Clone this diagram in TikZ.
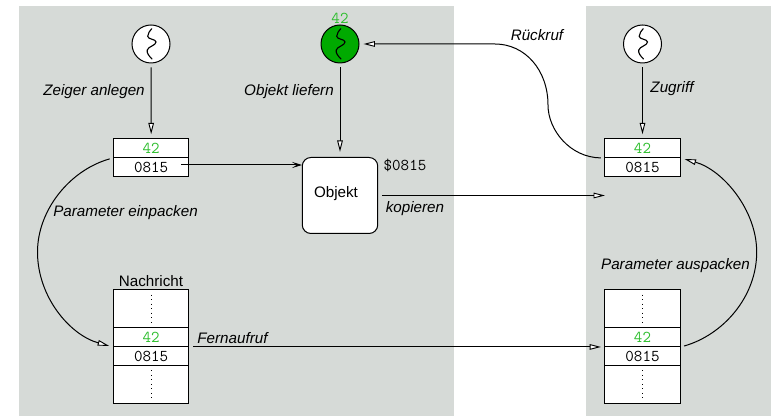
\documentclass[tikz,border=0pt]{standalone}
\usepackage{fontspec}
\setmainfont{Liberation Sans}
\usepackage{tikz}
\usetikzlibrary{arrows.meta}
\definecolor{panelgray}{RGB}{214,218,215}
\definecolor{idgreen}{RGB}{45,190,45}
\definecolor{threadgreen}{RGB}{0,170,0}
\tikzset{
  link/.style={line width=0.75pt,-{Triangle[fill=white,length=8.6pt,width=4.2pt,line width=0.7pt]}},
  plainlink/.style={line width=0.75pt},
  thrnode/.style={draw,circle,fill=white,line width=0.75pt,minimum size=28.5pt,inner sep=0pt},
  cell/.style={draw,fill=white,line width=0.75pt,minimum width=56.6pt,minimum height=14.2pt,inner sep=0pt,font=\ttfamily\fontsize{12.4}{14}\selectfont},
  tallcell/.style={cell,minimum height=28.4pt},
  greencell/.style={cell,text=idgreen},
  edgetext/.style={inner sep=0pt,font=\itshape\fontsize{11.4}{13}\selectfont},
  plaintext/.style={inner sep=0pt,font=\fontsize{11.4}{13}\selectfont},
  monotext/.style={inner sep=0pt,font=\ttfamily\fontsize{12.4}{14}\selectfont},
  dotline/.style={line width=0.75pt,dash pattern=on 0.8pt off 2.6pt,shorten <=4pt,shorten >=4pt},
  pics/thread/.style={code={
    \draw[line width=0.85pt,line cap=round] (1,-15) .. controls (-2,-12) and (-4.5,-9) .. (-3.7,-6) .. controls (-3,-2.5) and (5,-1.5) .. (5,2) .. controls (5,5) and (-3.3,4.5) .. (-3.3,7.7) .. controls (-3.3,10.5) and (-1,13.5) .. (0.7,15.3);
  }}
}
\begin{document}
\begin{tikzpicture}[x=0.75pt,y=0.75pt,yscale=-1,xscale=1]
\useasboundingbox (0,0) rectangle (771,416);

%Panels
\fill [panelgray] (19,6) rectangle (454,416);
\fill [panelgray] (586,6) rectangle (771,416);

%Threads
\node [thrnode] (thrA) at (151,44) {};
\node [thrnode,fill=threadgreen] (thrB) at (340,44) {};
\node [thrnode] (thrC) at (642.5,44) {};
\pic at (thrA) {thread};
\pic at (thrB) {thread};
\pic at (thrC) {thread};

%Pointer on the left
\node [greencell] (ptrAid) at (151.2,148) {42};
\node [cell] (ptrAval) at (151.2,167) {0815};

%Pointer on the right
\node [greencell] (ptrBid) at (642.5,148) {42};
\node [cell] (ptrBval) at (642.5,167) {0815};

%Object
\node [draw,fill=white,rounded corners=6.5pt,line width=0.75pt,minimum width=56.6pt,minimum height=57pt,inner sep=0pt] (obj) at (340,195.5) {};
\node [plaintext] (objname) at (336,194) {Objekt};

%Message on the left
\node [tallcell] (msgAtop) at (151.2,308.7) {};
\node [greencell] (msgAid) at (151.2,337) {42};
\node [cell] (msgAval) at (151.2,356) {0815};
\node [tallcell] (msgAend) at (151.2,384.4) {};
\draw [dotline] (msgAtop.north) -- (msgAtop.south);
\draw [dotline] (msgAend.north) -- (msgAend.south);

%Message on the right
\node [tallcell] (msgBtop) at (642.5,308.7) {};
\node [greencell] (msgBid) at (642.5,337) {42};
\node [cell] (msgBval) at (642.5,356) {0815};
\node [tallcell] (msgBend) at (642.5,384.4) {};
\draw [dotline] (msgBtop.north) -- (msgBtop.south);
\draw [dotline] (msgBend.north) -- (msgBend.south);

%Free ends
\coordinate (refstart) at (181,165);
\coordinate (refend) at (302,165);
\coordinate (copyend) at (605,195.5);

%Straight Lines
\draw [link,shorten <=3pt,shorten >=2.8pt] (thrA) -- (ptrAid);
\draw [link,shorten <=3pt,shorten >=3.8pt] (thrB) -- (obj);
\draw [link,shorten <=3pt,shorten >=2.8pt] (thrC) -- (ptrBid);
\draw [line width=0.75pt,-{Stealth[inset=3.4pt,length=7.5pt,width=4.6pt]}] (refstart) -- (refend);
\draw [link,shorten <=3pt] (obj) -- (copyend);
\draw [link,shorten <=3pt,shorten >=2.4pt] (msgAid.south east) -- (msgBid.south west);

%Curves
\draw [link,shorten <=2.6pt,shorten >=3pt] (ptrAid.south west) .. controls (70,170) and (37.5,210) .. (37.5,252) .. controls (37.5,297) and (70,335) .. (msgAid.south west);
\draw [link,shorten <=2.6pt,shorten >=3pt] (msgBid.south east) .. controls (723,335) and (756.7,297) .. (756.7,252) .. controls (756.7,210) and (723,170) .. (ptrBid.south east);
\draw [link,shorten <=2.6pt,shorten >=3pt] (ptrBid.south west) .. controls (570,157.5) and (548,130) .. (548,105) .. controls (548,70) and (525,44) .. (495,44) -- (thrB.east);

% Text Node
\node [edgetext] (lblzeiger) at (94,92) {Zeiger anlegen};
\node [edgetext] (lblliefern) at (289,92) {Objekt liefern};
\node [edgetext] (lblein) at (125.5,213) {Parameter einpacken};
\node [edgetext] (lblkop) at (415,209) {kopieren};
\node [edgetext] (lblfern) at (232.5,338) {Fernaufruf};
\node [edgetext] (lblrueck) at (537,35.5) {Rückruf};
\node [edgetext] (lblzug) at (672,89) {Zugriff};
\node [edgetext] (lblaus) at (675.5,265.5) {Parameter auspacken};
\node [plaintext] (lblmsg) at (151,281) {Nachricht};
\node [monotext] (lbladdr) at (405,165) {\$0815};
\node [monotext,text=idgreen] (lblid) at (340,18) {42};

\end{tikzpicture}
\end{document}
